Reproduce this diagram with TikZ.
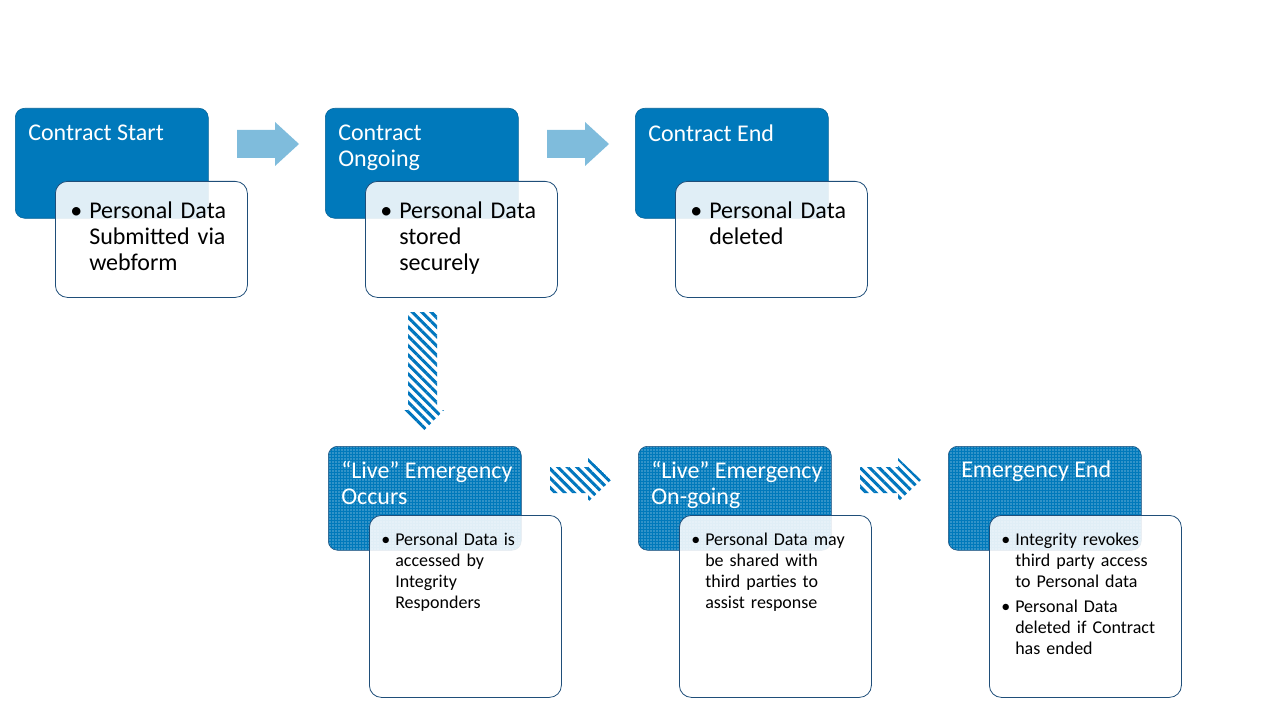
\documentclass[tikz,border=0pt]{standalone}
\usepackage{fontspec}
\setmainfont{Carlito}
\usetikzlibrary{patterns.meta}

\definecolor{phaseblue}{RGB}{0,121,187}
\definecolor{arrowblue}{RGB}{127,188,220}
\definecolor{hatchblue}{RGB}{0,118,190}
\definecolor{navy}{RGB}{31,78,121}

% bullet with hanging lines
\newcommand\bpoint[2]{\par\noindent\makebox[#1][l]{\textbullet}%
  \begin{tabular}[t]{@{}l@{}}#2\end{tabular}\par}

\tikzset{
  phase/.style={draw=phaseblue!80!black, fill=phaseblue, rounded corners=7pt,
    minimum width=144.75pt, minimum height=82.5pt, anchor=north west, inner sep=0pt},
  emergency/.style={draw=navy, preaction={fill=phaseblue},
    pattern={Dots[distance=2.25pt,radius=0.4pt]}, pattern color=white!85!phaseblue,
    rounded corners=7pt, minimum width=144.75pt, minimum height=78pt,
    anchor=north west, inner sep=0pt},
  detail/.style={draw=navy, line width=0.6pt, fill=white, fill opacity=0.88,
    rounded corners=9pt, minimum width=144pt, minimum height=87pt,
    anchor=north west, inner sep=0pt},
  title/.style={anchor=north west, inner sep=0pt, text=white, align=left,
    font=\fontsize{18}{19.5}\selectfont},
  points/.style={anchor=north west, inner sep=0pt, text width=160pt, align=left,
    font=\fontsize{18}{19.5}\selectfont},
  smallpoints/.style={points, font=\fontsize{13.5}{15.75}\selectfont},
  lightarrow/.style={fill=arrowblue},
  hatcharrow/.style={pattern={Lines[angle=-45,distance=5pt,line width=2.3pt]},
    pattern color=hatchblue}
}

\begin{document}
\begin{tikzpicture}[x=0.75pt,y=-0.75pt]
\useasboundingbox (0,0) rectangle (1280,720);

% contract
\node[phase] (start) at (15,108) {};
\node[title] (start-t) at ([shift={(13,17)}]start.north west) {Contract Start};
\node[detail] (start-d) at (55,181) {};
\node[points] (start-p) at ([shift={(15,11)}]start-d.north west)
  {\bpoint{14.25pt}{Personal Data\\Submitted via\\webform}};

\node[phase] (ongoing) at (325,108) {};
\node[title] (ongoing-t) at ([shift={(13,17)}]ongoing.north west) {Contract\\Ongoing};
\node[detail] (ongoing-d) at (365,181) {};
\node[points] (ongoing-p) at ([shift={(15,11)}]ongoing-d.north west)
  {\bpoint{14.25pt}{Personal Data\\stored\\securely}};

\node[phase] (end) at (635,108) {};
\node[title] (end-t) at ([shift={(13,17)}]end.north west) {Contract End};
\node[detail] (end-d) at (675,181) {};
\node[points] (end-p) at ([shift={(15,11)}]end-d.north west)
  {\bpoint{14.25pt}{Personal Data\\deleted}};

\fill[lightarrow] (237,130) -- ++(38,0) -- ++(0,-8) -- (299,144) -- (275,166) -- ++(0,-8) -- (237,158) -- cycle;
\fill[lightarrow] (547,130) -- ++(38,0) -- ++(0,-8) -- (609,144) -- (585,166) -- ++(0,-8) -- (547,158) -- cycle;

% emergency
\path[hatcharrow] (408,312) -- (437,312) -- (437,410) -- (444,410) -- (422.5,432) -- (401,410) -- (408,410) -- cycle;

\node[emergency] (occurs) at (328,446) {};
\node[title] (occurs-t) at ([shift={(13,15)}]occurs.north west) {“Live” Emergency\\Occurs};
\node[detail, minimum height=136.5pt] (occurs-d) at (369,515) {};
\node[smallpoints] (occurs-p) at ([shift={(12,9)}]occurs-d.north west)
  {\bpoint{10.5pt}{Personal Data is\\accessed by\\Integrity\\Responders}};

\node[emergency] (live) at (638,446) {};
\node[title] (live-t) at ([shift={(13,15)}]live.north west) {“Live” Emergency\\On-going};
\node[detail, minimum height=136.5pt] (live-d) at (679,515) {};
\node[smallpoints] (live-p) at ([shift={(12,9)}]live-d.north west)
  {\bpoint{10.5pt}{Personal Data may\\be shared with\\third parties to\\assist response}};

\node[emergency] (over) at (948,446) {};
\node[title] (over-t) at ([shift={(13,15)}]over.north west) {Emergency End};
\node[detail, minimum height=136.5pt] (over-d) at (989,515) {};
\node[smallpoints] (over-p) at ([shift={(12,9)}]over-d.north west)
  {\bpoint{10.5pt}{Integrity revokes\\third party access\\to Personal data}\vspace{2pt}
   \bpoint{10.5pt}{Personal Data\\deleted if Contract\\has ended}};

\path[hatcharrow] (550,467) -- (588,467) -- (588,458) -- (611,480) -- (588,502) -- (588,493) -- (550,493) -- cycle;
\path[hatcharrow] (860,467) -- (898,467) -- (898,458) -- (921,480) -- (898,502) -- (898,493) -- (860,493) -- cycle;
\end{tikzpicture}
\end{document}
